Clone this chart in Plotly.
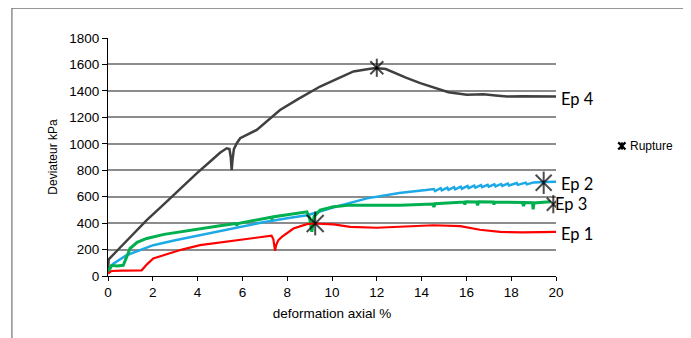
import plotly.graph_objects as go

# ---- data ----
ep4_x = [0, 0.03, 0.5, 1.0, 1.73, 2.5, 3.2, 3.96, 4.6, 5.0, 5.3, 5.42, 5.48, 5.52, 5.56, 5.62, 5.75, 5.9,
         6.64, 7.68, 8.5, 9.47, 10.2, 10.96, 11.5, 11.93, 12.4, 12.75, 13.3, 13.94, 14.53, 15.2, 16.02,
         16.77, 17.3, 17.81, 18.5, 19.2, 20.0]
ep4_y = [40, 125, 208, 295, 422, 544, 656, 776, 872, 932, 966, 960, 900, 800, 880, 960, 1004, 1042,
         1105, 1256, 1340, 1433, 1489, 1547, 1562, 1573, 1565, 1539, 1500, 1459, 1425, 1390, 1370,
         1375, 1365, 1357, 1360, 1358, 1357]

ep2_x = [0, 0.24, 0.83, 2.02, 3.0, 4.1, 5.5, 6.8, 8.0, 8.88, 9.2, 10.3, 11.56, 12.15, 13.0, 14.2,
         14.55, 14.6, 14.85, 14.9, 15.15, 15.2, 15.45, 15.5, 15.75, 15.8, 16.05, 16.1, 16.35, 16.4,
         16.65, 16.7, 16.95, 17.0, 17.25, 17.3, 17.55, 17.6, 17.85, 17.9, 18.25, 18.3, 18.65, 18.7,
         19.0, 19.5, 20.0]
ep2_y = [30, 94, 157, 233, 270, 309, 358, 402, 436, 460, 475, 530, 587, 605, 628, 650,
         658, 642, 664, 648, 668, 652, 672, 656, 676, 660, 681, 664, 684, 668,
         688, 672, 690, 675, 693, 678, 696, 681, 699, 684, 703, 689, 706, 693,
         708, 711, 713]

ep3_x = [0, 0.16, 0.4, 0.68, 0.85, 0.98, 1.3, 1.73, 2.5, 3.81, 5.0, 5.7, 5.75, 5.8, 6.8, 7.28, 7.31,
         7.35, 8.88, 9.0, 9.1, 9.2, 9.47, 10.06, 10.81, 12.0, 13.04, 14.5, 14.55, 14.6, 15.5, 15.9,
         15.93, 15.96, 16.02, 16.45, 16.5, 16.55, 17.2, 17.23, 17.26, 18.0, 18.5, 18.55, 18.6, 18.95,
         18.98, 19.02, 19.4, 19.75]
ep3_y = [30, 81, 76, 81, 150, 208, 255, 284, 315, 352, 380, 397, 382, 397, 430, 445, 428,
         447, 485, 440, 334, 450, 498, 523, 536, 535, 536, 545, 522, 547, 556, 560,
         540, 560, 561, 560, 535, 561, 560, 540, 560, 558, 556, 530, 556, 554,
         505, 553, 556, 561]

ep1_x = [0, 0.16, 0.6, 1.5, 1.75, 2.02, 2.62, 3.3, 4.11, 5.5, 6.79, 7.3, 7.38, 7.43, 7.46, 7.5, 7.6,
         7.76, 8.28, 8.88, 9.18, 10.07, 10.81, 12.0, 13.3, 14.53, 15.73, 16.6, 17.51, 18.5, 20.0]
ep1_y = [18, 38, 40, 43, 90, 132, 164, 200, 233, 262, 291, 305, 280, 220, 190, 230, 270,
         296, 359, 392, 397, 390, 372, 365, 372, 384, 377, 350, 334, 330, 334]

rupture_x = [12.0, 19.45, 19.88, 9.25]
rupture_y = [1575, 705, 543, 397]

series_names = ["Ep 4", "Ep 2", "Ep 3", "Ep 1"]
legend_label = "Rupture"
x_ticks = list(range(0, 21, 2))
y_ticks = list(range(0, 1801, 200))

# ---- styles ----
colors = ["#404040", "#1CA9E6", "#00B050", "#FF0000"]
widths = [2.5, 2.5, 3, 2.2]
marker_sizes = [13, 16, 13, 17]

# figure geometry (the page has an 8px body margin)
FW, FH = 683, 330
L, T = 100, 30.3
R = FW - 547.7
B = FH - 267.7
W = FW - L - R
H = FH - T - B


def px_to_paper_x(px):
    return (px - L) / W


def px_to_paper_y(py):
    return (FH - B - py) / H


fig = go.Figure()
series = [(ep4_x, ep4_y), (ep2_x, ep2_y), (ep3_x, ep3_y), (ep1_x, ep1_y)]
for (sx, sy), name, c, w in zip(series, series_names, colors, widths):
    fig.add_trace(go.Scatter(x=sx, y=sy, mode="lines", name=name, showlegend=False,
                             line=dict(color=c, width=w)))

fig.add_trace(go.Scatter(x=rupture_x, y=rupture_y, mode="markers", name=legend_label,
                         marker=dict(symbol="line-ns-open", size=marker_sizes, color="black",
                                     line=dict(color="black", width=2)),
                         showlegend=False))
fig.add_trace(go.Scatter(x=rupture_x, y=rupture_y, mode="markers", name=legend_label,
                         marker=dict(symbol="x-thin-open", size=marker_sizes, color="black",
                                     line=dict(color="black", width=2)),
                         showlegend=False))

label_font = dict(family="Lato, Noto Sans, sans-serif", size=16.5, color="black")
for (sx, sy), name in zip(series, series_names):
    fig.add_annotation(x=sx[-1], y=sy[-1], text=name, xref="x", yref="y",
                       xanchor="left", yanchor="middle", showarrow=False,
                       xshift=3, yshift=-2, font=label_font)

# legend (drawn by hand to match the compact legend of the reference)
lx, ly, s = 613.5, 138, 3.6
px0, px1 = px_to_paper_x(lx - s), px_to_paper_x(lx + s)
py0, py1 = px_to_paper_y(ly + s), px_to_paper_y(ly - s)
pxc = px_to_paper_x(lx)
for x0, y0, x1, y1 in [(px0, py0, px1, py1), (px0, py1, px1, py0), (pxc, py0, pxc, py1)]:
    fig.add_shape(type="line", xref="paper", yref="paper", x0=x0, y0=y0, x1=x1, y1=y1,
                  line=dict(color="black", width=2.2))
fig.add_annotation(x=px_to_paper_x(620), y=px_to_paper_y(ly), xref="paper", yref="paper",
                   text=legend_label, showarrow=False, xanchor="left", yanchor="middle",
                   font=dict(family="Liberation Sans, Arial, sans-serif", size=12, color="black"))

# outer frame
fig.add_shape(type="rect", xref="paper", yref="paper",
              x0=px_to_paper_x(4), x1=px_to_paper_x(679),
              y0=px_to_paper_y(360), y1=px_to_paper_y(0.5),
              line=dict(color="#555555", width=1), fillcolor="rgba(0,0,0,0)", layer="below")

tick_font = dict(family="Liberation Sans, Arial, sans-serif", size=13.5, color="black")
xtitle_font = dict(family="Liberation Sans, Arial, sans-serif", size=13.5, color="black")
ytitle_font = dict(family="Liberation Sans, Arial, sans-serif", size=12, color="black")
fig.update_layout(
    width=FW, height=FH,
    margin=dict(l=L, r=R, t=T, b=B, autoexpand=False),
    paper_bgcolor="white", plot_bgcolor="white",
    font=tick_font,
    showlegend=False,
)
fig.update_xaxes(range=[0, 20], tickvals=x_ticks, ticktext=[str(v) for v in x_ticks],
                 showgrid=False, zeroline=False, showline=True, linecolor="black", linewidth=1,
                 ticks="outside", ticklen=4, tickcolor="black", tickfont=tick_font,
                 title=dict(text="deformation axial %", font=xtitle_font, standoff=9))
fig.update_yaxes(range=[0, 1800], tickvals=y_ticks, ticktext=[str(v) for v in y_ticks],
                 showgrid=True, gridcolor="#8C8C8C", gridwidth=1.5, zeroline=False,
                 showline=True, linecolor="black", linewidth=1,
                 ticks="outside", ticklen=5, tickcolor="black", tickfont=tick_font,
                 title=dict(text="Deviateur kPa", font=ytitle_font, standoff=9))

fig.write_html("out.html")
